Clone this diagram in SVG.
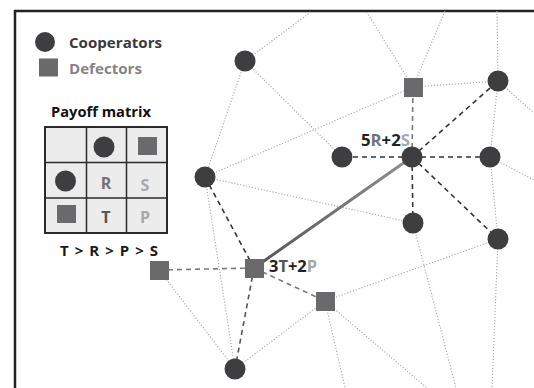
<svg xmlns="http://www.w3.org/2000/svg" width="534" height="388" viewBox="0 0 534 388">
<defs>
<style>
.dot{stroke:#a8a8a8;stroke-width:1.1;stroke-dasharray:1.2 1.8;fill:none}
.dk{stroke:#353535;stroke-width:1.6;stroke-dasharray:5 4;fill:none}
.gy{stroke:#7a7a7a;stroke-width:1.6;stroke-dasharray:5 4;fill:none}
.c{fill:#3e3e41}
.d{fill:#6a6a6c}
.t{font-family:"Open Sans","Liberation Sans",sans-serif;font-weight:bold}
</style>
<linearGradient id="g" gradientUnits="userSpaceOnUse" x1="254" y1="268" x2="412" y2="157">
<stop offset="0" stop-color="#555557"/>
<stop offset="1" stop-color="#909092"/>
</linearGradient>
</defs>
<rect x="0" y="0" width="534" height="388" fill="#fff"/>
<rect x="15" y="11" width="600" height="500" fill="none" stroke="#222" stroke-width="2.5"/>
<g id="connectors">
<line class="dot" x1="245" y1="61" x2="312" y2="11"/>
<line class="dot" x1="245" y1="61" x2="342" y2="157"/>
<line class="dot" x1="245" y1="61" x2="205" y2="177"/>
<line class="dot" x1="205" y1="177" x2="413" y2="87"/>
<line class="dot" x1="205" y1="177" x2="413" y2="223"/>
<line class="dot" x1="205" y1="177" x2="235" y2="369"/>
<line class="dot" x1="413" y1="87" x2="366" y2="11"/>
<line class="dot" x1="413" y1="87" x2="445" y2="11"/>
<line class="dot" x1="413" y1="87" x2="498" y2="81"/>
<line class="dot" x1="498" y1="81" x2="497" y2="11"/>
<line class="dot" x1="498" y1="81" x2="534" y2="113"/>
<line class="dot" x1="498" y1="81" x2="490" y2="157"/>
<line class="dot" x1="490" y1="157" x2="534" y2="180"/>
<line class="dot" x1="490" y1="157" x2="498" y2="239"/>
<line class="dot" x1="413" y1="223" x2="456" y2="388"/>
<line class="dot" x1="498" y1="239" x2="492" y2="388"/>
<line class="dot" x1="498" y1="239" x2="325" y2="301"/>
<line class="dot" x1="325" y1="301" x2="427" y2="388"/>
<line class="dot" x1="325" y1="301" x2="345" y2="388"/>
<line class="dot" x1="325" y1="301" x2="235" y2="369"/>
<line class="dot" x1="159" y1="270" x2="235" y2="369"/>
<line class="dk" x1="205" y1="177" x2="254" y2="268"/>
<line class="dk" x1="412" y1="157" x2="342" y2="157"/>
<line class="dk" x1="412" y1="157" x2="490" y2="157"/>
<line class="dk" x1="412" y1="157" x2="498" y2="81"/>
<line class="dk" x1="412" y1="157" x2="413" y2="223"/>
<line class="dk" x1="412" y1="157" x2="498" y2="239"/>
<line class="gy" x1="412" y1="157" x2="413" y2="87"/>
<line class="gy" x1="254" y1="268" x2="159" y2="270"/>
<line class="gy" x1="254" y1="268" x2="325" y2="301"/>
<line class="gy" x1="254" y1="268" x2="235" y2="369" style="stroke:#555"/>
<line x1="254" y1="268" x2="412" y2="157" stroke="url(#g)" stroke-width="3"/>
</g>
<g id="legend">
<circle class="c" cx="45" cy="42" r="10"/>
<text class="t" x="69" y="48" font-size="14.5" fill="#3a3a3c" textLength="93" lengthAdjust="spacingAndGlyphs">Cooperators</text>
<rect class="d" x="39" y="58.5" width="19" height="18"/>
<text class="t" x="69" y="74" font-size="14.5" fill="#848486" textLength="73" lengthAdjust="spacingAndGlyphs">Defectors</text>
</g>
<g id="payoff-matrix">
<text class="t" x="51" y="117" font-size="14.5" fill="#111" textLength="100" lengthAdjust="spacingAndGlyphs">Payoff matrix</text>
<rect x="45" y="127" width="122" height="106" fill="#ececec" stroke="#2a2a2a" stroke-width="2"/>
<g stroke="#2a2a2a" stroke-width="1.5">
<line x1="86.5" y1="127" x2="86.5" y2="233"/>
<line x1="126.5" y1="127" x2="126.5" y2="233"/>
<line x1="45" y1="162.5" x2="167" y2="162.5"/>
<line x1="45" y1="198" x2="167" y2="198"/>
</g>
<circle class="c" cx="104" cy="147" r="10.5"/>
<rect class="d" x="138" y="137" width="19" height="18"/>
<circle class="c" cx="65.5" cy="181" r="10.5"/>
<rect class="d" x="57" y="205" width="19" height="18"/>
<text class="t" x="106" y="189" font-size="16" fill="#727274" text-anchor="middle">R</text>
<text class="t" x="145" y="191" font-size="16" fill="#a8a8aa" text-anchor="middle">S</text>
<text class="t" x="106" y="223" font-size="16" fill="#565658" text-anchor="middle">T</text>
<text class="t" x="145" y="223" font-size="16" fill="#a8a8aa" text-anchor="middle">P</text>
<text class="t" x="60" y="255.5" font-size="15" fill="#1a1a1a" textLength="98" lengthAdjust="spacing">T &gt; R &gt; P &gt; S</text>
</g>
<g id="nA"><circle class="c" cx="245" cy="61" r="10.5"/></g>
<g id="nB"><circle class="c" cx="205" cy="177" r="10.5"/></g>
<g id="nC"><circle class="c" cx="342" cy="157" r="10.5"/></g>
<g id="nD"><circle class="c" cx="412" cy="157" r="10.5"/>
<text class="t" x="361" y="146" font-size="16" fill="#222" textLength="49" lengthAdjust="spacingAndGlyphs"><tspan>5</tspan><tspan fill="#727274">R</tspan><tspan>+2</tspan><tspan fill="#a8a8aa">S</tspan></text></g>
<g id="nE"><rect class="d" x="404" y="78" width="19" height="19"/></g>
<g id="nF"><circle class="c" cx="498" cy="81" r="10.5"/></g>
<g id="nG"><circle class="c" cx="490" cy="157" r="10.5"/></g>
<g id="nH"><circle class="c" cx="413" cy="223" r="10.5"/></g>
<g id="nI"><circle class="c" cx="498" cy="239" r="10.5"/></g>
<g id="nJ"><rect class="d" x="245" y="259" width="19" height="19"/>
<text class="t" x="269" y="272" font-size="16" fill="#222" textLength="48" lengthAdjust="spacingAndGlyphs"><tspan>3</tspan><tspan fill="#565658">T</tspan><tspan>+2</tspan><tspan fill="#a8a8aa">P</tspan></text></g>
<g id="nK"><rect class="d" x="150" y="261" width="19" height="19"/></g>
<g id="nL"><rect class="d" x="316" y="292" width="19" height="19"/></g>
<g id="nM"><circle class="c" cx="235" cy="369" r="10.5"/></g>
</svg>
